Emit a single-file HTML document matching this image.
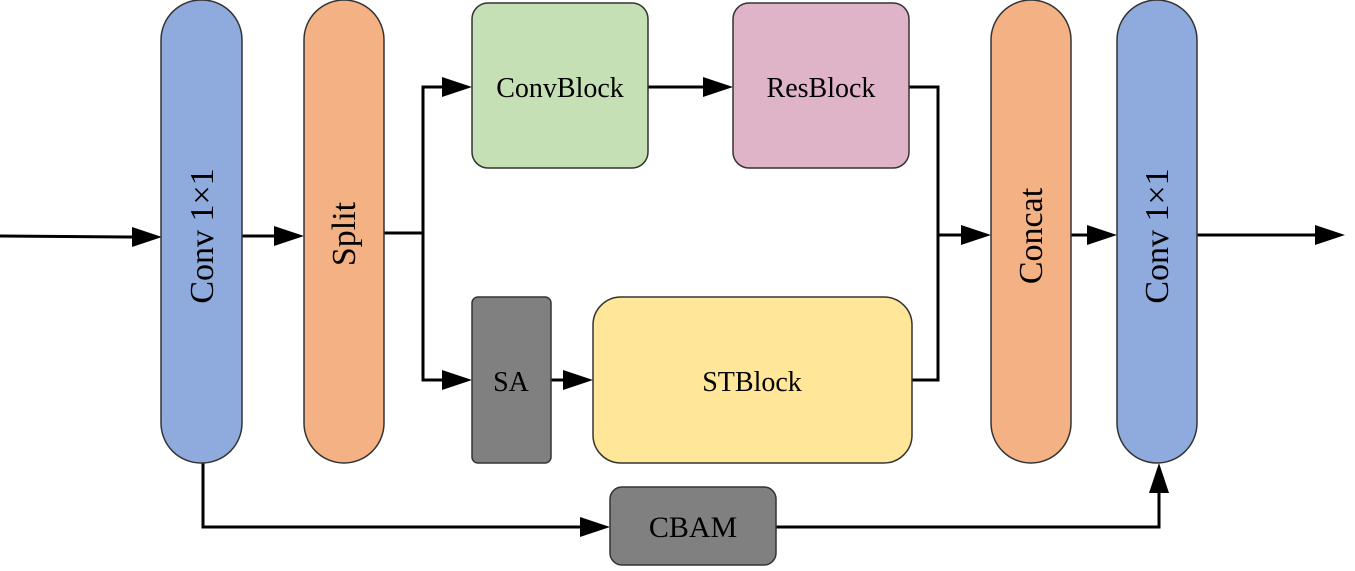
<!DOCTYPE html>
<html><head><meta charset="utf-8"><style>
html,body{margin:0;padding:0;background:#fff;}
svg{display:block;}
text{font-family:"Liberation Serif","DejaVu Serif",serif;fill:#000;}
</style></head><body>
<svg width="1355" height="571" viewBox="0 0 1355 571" xmlns="http://www.w3.org/2000/svg">
<g stroke="#000" stroke-width="3" fill="none">
<line x1="0" y1="236" x2="132" y2="237"/>
<line x1="242" y1="236" x2="276" y2="236"/>
<polyline points="384,233 423,233"/>
<polyline points="443,87 423,87 423,380 443,380"/>
<line x1="648" y1="87" x2="704" y2="87"/>
<line x1="551" y1="380" x2="564" y2="380"/>
<polyline points="909,87 938,87 938,380 912,380"/>
<line x1="938" y1="235" x2="962" y2="235"/>
<line x1="1071" y1="235" x2="1088" y2="235"/>
<line x1="1197" y1="235" x2="1316" y2="235"/>
<polyline points="203,463 203,527 582,527"/>
<polyline points="776,527 1159,527 1159,492"/>
</g>
<g fill="#000">
<polygon points="162,237 132,227 132,247"/>
<polygon points="304,236 274,226 274,246"/>
<polygon points="472,87 442,77 442,97"/>
<polygon points="472,380 442,370 442,390"/>
<polygon points="733,87 703,77 703,97"/>
<polygon points="593,380 563,370 563,390"/>
<polygon points="991,235 961,225 961,245"/>
<polygon points="1117,235 1087,225 1087,245"/>
<polygon points="1345,235 1315,225 1315,245"/>
<polygon points="610,527 580,517 580,537"/>
<polygon points="1159,463 1149,493 1169,493"/>
</g>
<g stroke="#333" stroke-width="1.5">
<rect x="161" y="0" width="81" height="463" rx="40" fill="#8faadc"/>
<rect x="304" y="0" width="80" height="463" rx="40" fill="#f4b183"/>
<rect x="991" y="0" width="80" height="463" rx="40" fill="#f4b183"/>
<rect x="1117" y="0" width="80" height="463" rx="40" fill="#8faadc"/>
<rect x="472" y="3" width="176" height="165" rx="16" fill="#c5e0b4"/>
<rect x="733" y="3" width="176" height="165" rx="16" fill="#dfb4c8"/>
<rect x="472" y="297" width="79" height="166" rx="6" fill="#808080"/>
<rect x="593" y="297" width="319" height="166" rx="28" fill="#ffe699"/>
<rect x="610" y="487" width="166" height="78" rx="12" fill="#808080"/>
</g>
<g font-family="Liberation Serif, DejaVu Serif, serif" font-size="28" text-anchor="middle">
<text x="560" y="97">ConvBlock</text>
<text x="821" y="97">ResBlock</text>
<text x="511" y="391">SA</text>
<text x="752" y="391">STBlock</text>
<text x="693" y="537" font-size="30">CBAM</text>
<text transform="translate(213,236) rotate(-90)" font-size="34">Conv 1×1</text>
<text transform="translate(355,234) rotate(-90)" font-size="34">Split</text>
<text transform="translate(1042,236) rotate(-90)" font-size="34">Concat</text>
<text transform="translate(1168,236) rotate(-90)" font-size="34">Conv 1×1</text>
</g>
</svg>
</body></html>
